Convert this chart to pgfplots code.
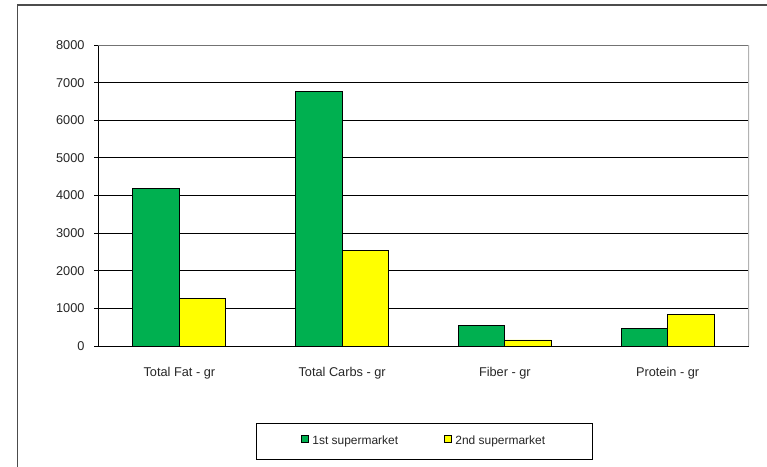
\documentclass[border=0pt]{standalone}
\usepackage{pgfplots}
\pgfplotsset{compat=1.18}
\usepackage{fontspec}
\setmainfont{Liberation Sans}
\definecolor{xlgreen}{HTML}{00B050}
\definecolor{xlyellow}{HTML}{FFFF00}
\begin{document}
\begin{tikzpicture}
\useasboundingbox (0,0) rectangle (767bp,-467bp);
\draw[line width=1.6bp, color=black!70] (17.5bp,-470bp) -- (17.5bp,-5bp) -- (770bp,-5bp);
\begin{axis}[
  at={(98bp,-346bp)}, anchor=south west,
  scale only axis, width=651bp, height=301bp,
  xmin=-0.5, xmax=3.5, ymin=0, ymax=8000,
  ybar=0pt, bar width=46.5bp,
  axis line style={draw=none},
  xtick pos=bottom, ytick pos=left,
  xtick={0,1,2,3},
  xticklabels={Total Fat - gr, Total Carbs - gr, Fiber - gr, Protein - gr},
  x tick style={draw=none},
  extra x ticks={-0.5,0.5,1.5,2.5,3.5},
  extra x tick labels={},
  extra x tick style={major tick length=5bp, tick align=outside, tick style={draw=black, line width=0.8bp}},
  ytick={0,1000,...,7000},
  extra y ticks={8000},
  extra y tick style={grid=none},
  ymajorgrids,
  grid style={black, line width=0.8bp},
  y tick style={black, line width=0.8bp},
  major tick length=4bp, tick align=outside,
  tick label style={font=\fontsize{12.8}{14}\selectfont, text=black!85},
  /pgf/number format/assume math mode=true,
  /pgf/number format/1000 sep={},
  yticklabel style={xshift=-6bp},
  xticklabel style={yshift=-14bp},
  legend style={at={(0.501,-0.3163)}, anchor=center, legend columns=2,
    draw=black, line width=0.8bp, inner xsep=45bp, inner ysep=11bp,
    font=\fontsize{12}{13}\selectfont, text=black!85,
    /tikz/every odd column/.append style={column sep=2bp},
    /tikz/every even column/.append style={column sep=44bp}},
  legend image code/.code={\draw[#1, line width=0.8bp] (0bp,-1bp) rectangle (6.5bp,6bp);},
]
\draw[black, line width=0.8bp] (rel axis cs:0,0) -- (rel axis cs:0,1);
\draw[black!55, line width=1.2bp] (rel axis cs:0,1) -- (rel axis cs:1,1);
\draw[black!30, line width=1.4bp] (rel axis cs:1,0) -- (rel axis cs:1,1);
\addplot[fill=xlgreen, draw=black, line width=0.8bp] coordinates {(0,4190) (1,6760) (2,540) (3,458)};
\addplot[fill=xlyellow, draw=black, line width=0.8bp] coordinates {(0,1262) (1,2545) (2,160) (3,848)};
\draw[black, line width=1bp] (rel axis cs:0,0) -- (rel axis cs:1,0);
\legend{1st supermarket, 2nd supermarket}
\end{axis}
\end{tikzpicture}
\end{document}
